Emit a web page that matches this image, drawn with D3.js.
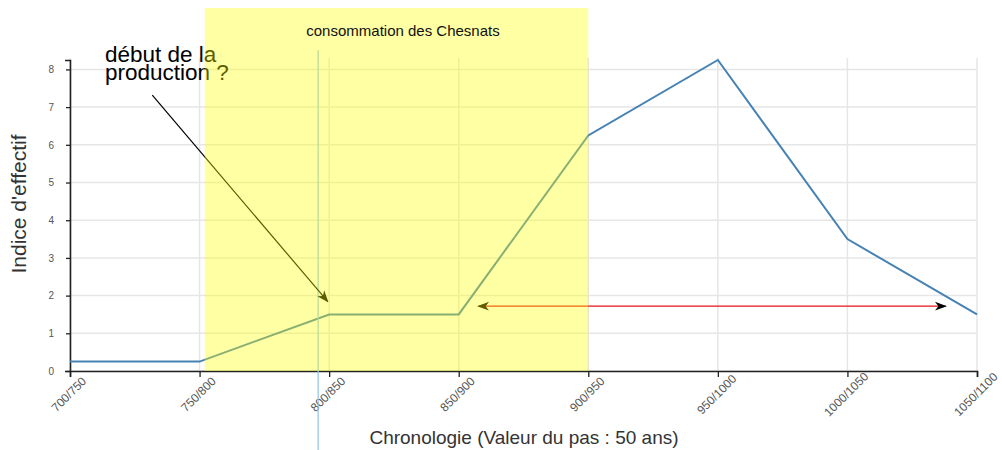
<!DOCTYPE html>
<html>
<head>
<meta charset="utf-8">
<script src="https://cdn.jsdelivr.net/npm/d3@7"></script>
<style>
  html, body { margin: 0; padding: 0; background: #fff; }
  svg { display: block; font-family: "Liberation Sans", Arial, sans-serif; }
</style>
</head>
<body>
<svg id="chart" width="1002" height="450"></svg>
<script>
// ---- data ----
const categories = ["700/750", "750/800", "800/850", "850/900", "900/950", "950/1000", "1000/1050", "1050/1100"];
const values = [0.25, 0.25, 1.5, 1.5, 6.25, 8.25, 3.5, 1.5];
const yTicks = [0, 1, 2, 3, 4, 5, 6, 7, 8];
const yMax = 8.25;
const zoneLabel = "consommation des Chesnats";
const zoneRange = [1.04, 4.0];           // category-index units
const markerIndex = 1.915;               // vertical blue line
const noteLines = ["début de la", "production ?"];
const noteArrow = [[0.635, 7.32], [1.99, 1.84]];     // [index, value]
const spanArrow = [[3.15, 1.72], [6.76, 1.72]];      // [index, value]
const xTitle = "Chronologie (Valeur du pas : 50 ans)";
const yTitle = "Indice d'effectif";

// ---- layout ----
const W = 1002, H = 450;
const m = { left: 70, right: 25, top: 60, bottom: 79 };
const svg = d3.select("#chart");

const x = d3.scalePoint().domain(categories).range([m.left, W - m.right]);
const step = x.step();
const xi = i => m.left + i * step;
const y = d3.scaleLinear().domain([0, yMax]).range([H - m.bottom, m.top]);

const defs = svg.append("defs");
function marker(id, color, orient) {
  defs.append("marker")
    .attr("id", id).attr("viewBox", "0 -5 12 10")
    .attr("refX", 11).attr("refY", 0)
    .attr("markerWidth", 12).attr("markerHeight", 10)
    .attr("markerUnits", "userSpaceOnUse")
    .attr("orient", orient)
    .append("path").attr("d", "M0,-4.5L12,0L0,4.5L3.5,0Z").attr("fill", color);
}
marker("arrowEnd", "#000", "auto");
marker("arrowStart", "#000", "auto-start-reverse");

// grid
const grid = svg.append("g");
grid.selectAll(".hg").data(yTicks).join("line")
  .attr("x1", m.left).attr("x2", W - m.right)
  .attr("y1", d => y(d)).attr("y2", d => y(d))
  .attr("stroke", "#e6e6e6").attr("stroke-width", 1.5);
grid.selectAll(".vg").data(categories).join("line")
  .attr("x1", d => x(d)).attr("x2", d => x(d))
  .attr("y1", m.top - 2).attr("y2", H - m.bottom)
  .attr("stroke", "#e6e6e6").attr("stroke-width", 1.5);

// axes
const gx = svg.append("g").attr("transform", `translate(0,${H - m.bottom})`)
  .call(d3.axisBottom(x).tickSize(6).tickSizeOuter(6));
gx.select(".domain").attr("stroke", "#222").attr("stroke-width", 1.6);
gx.selectAll(".tick line").attr("stroke", "#222").attr("stroke-width", 1.3);
gx.selectAll(".tick text")
  .attr("y", 0).attr("dy", 0)
  .attr("transform", "translate(-1,24) rotate(-45)")
  .attr("text-anchor", "middle")
  .attr("dominant-baseline", "middle")
  .attr("fill", "#555").style("font-size", "12px")
  .style("font-family", "Liberation Sans, Arial, sans-serif");

const gy = svg.append("g").attr("transform", `translate(${m.left},0)`)
  .call(d3.axisLeft(y).tickValues(yTicks).tickFormat(d3.format("d")).tickSize(4).tickSizeOuter(5).tickPadding(12));
gy.select(".domain").attr("stroke", "#222").attr("stroke-width", 1.6);
gy.selectAll(".tick line").attr("stroke", "#222").attr("stroke-width", 1.3);
gy.selectAll(".tick text").attr("fill", "#555").style("font-size", "10px")
  .style("font-family", "Liberation Sans, Arial, sans-serif");

// series line
const line = d3.line().x((d, i) => x(categories[i])).y(d => y(d));
svg.append("path").datum(values)
  .attr("d", line).attr("fill", "none")
  .attr("stroke", "#4682b4").attr("stroke-width", 2).attr("stroke-linejoin", "miter");

// span arrow (red, double-headed)
svg.append("line")
  .attr("x1", xi(spanArrow[0][0])).attr("y1", y(spanArrow[0][1]))
  .attr("x2", xi(spanArrow[1][0])).attr("y2", y(spanArrow[1][1]))
  .attr("stroke", "#e8101a").attr("stroke-width", 1.4)
  .attr("marker-start", "url(#arrowStart)").attr("marker-end", "url(#arrowEnd)");

// blue marker vertical line
svg.append("line")
  .attr("x1", xi(markerIndex)).attr("x2", xi(markerIndex))
  .attr("y1", 50).attr("y2", H)
  .attr("stroke", "#8fc2ec").attr("stroke-width", 1.2);

// note arrow
svg.append("line")
  .attr("x1", xi(noteArrow[0][0])).attr("y1", y(noteArrow[0][1]))
  .attr("x2", xi(noteArrow[1][0])).attr("y2", y(noteArrow[1][1]))
  .attr("stroke", "#000").attr("stroke-width", 1.2)
  .attr("marker-end", "url(#arrowEnd)");

// note text
svg.selectAll(".note").data(noteLines).join("text")
  .attr("x", 105).attr("y", (d, i) => 62 + i * 18)
  .attr("fill", "#000").style("font-size", "22.5px")
  .text(d => d);

// yellow zone overlay
svg.append("rect")
  .attr("x", xi(zoneRange[0])).attr("y", 8)
  .attr("width", xi(zoneRange[1]) - xi(zoneRange[0]))
  .attr("height", (H - m.bottom) - 8)
  .attr("fill", "#ffff00").attr("fill-opacity", 0.36);

// zone label
svg.append("text")
  .attr("x", 403).attr("y", 36)
  .attr("text-anchor", "middle").attr("fill", "#111")
  .style("font-size", "15px").text(zoneLabel);

// axis titles
svg.append("text")
  .attr("x", 524).attr("y", 444)
  .attr("text-anchor", "middle").attr("fill", "#333")
  .style("font-size", "19px").text(xTitle);
svg.append("text")
  .attr("transform", "translate(26,204) rotate(-90)")
  .attr("text-anchor", "middle").attr("fill", "#333")
  .style("font-size", "21px").text(yTitle);
</script>
</body>
</html>
